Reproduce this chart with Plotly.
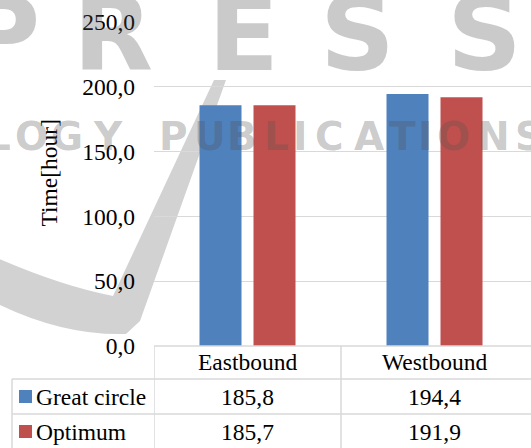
import plotly.graph_objects as go

# ---- data ----
categories = ["Eastbound", "Westbound"]
series_names = ["Great circle", "Optimum"]
great_circle = [185.8, 194.4]
optimum = [185.7, 191.9]
series_colors = ["#4F81BD", "#C0504D"]
y_tick_values = [0, 50, 100, 150, 200, 250]

W, H = 531, 448
L_M, R_M, T_M, B_M = 154, 0, 22, 102
PW, PH = W - L_M - R_M, H - T_M - B_M


def px(x):
    """pixel column -> paper x"""
    return (x - L_M) / PW


def py(y):
    """pixel row -> paper y"""
    return (H - B_M - y) / PH


FONT = "Liberation Serif, Times New Roman, DejaVu Serif, serif"
FS = 23.5
GRID = "#D9D9D9"
TXT = dict(family=FONT, size=FS, color="black")

fig = go.Figure()
for name, vals, col in zip(series_names, [great_circle, optimum], series_colors):
    fig.add_trace(go.Bar(x=categories, y=vals, name=name, marker_color=col,
                         marker_line_width=0))

shapes = []
annotations = []


def note(x, y, text, font, xref="paper", xanchor="center", **kw):
    annotations.append(dict(x=x, xref=xref, y=y, yref="paper", text=text,
                            xanchor=xanchor, yanchor="middle", showarrow=False,
                            font=font, **kw))


# background swoosh
sw = [(-10, 300), (60, 336), (126, 334), (140, 321), (226, 80), (214, 80),
      (113, 296), (60, 286), (-10, 255)]
p = [(px(a), py(b)) for a, b in sw]
path = (f"M{p[0][0]},{p[0][1]} Q{p[1][0]},{p[1][1]} {p[2][0]},{p[2][1]} "
        f"L{p[3][0]},{p[3][1]} L{p[4][0]},{p[4][1]} L{p[5][0]},{p[5][1]} "
        f"L{p[6][0]},{p[6][1]} Q{p[7][0]},{p[7][1]} {p[8][0]},{p[8][1]} Z")
shapes.append(dict(type="path", xref="paper", yref="paper", path=path,
                   fillcolor="#D2D2D2", line_width=0, layer="below"))


# data table grid
def hline(x0, x1, y):
    shapes.append(dict(type="line", xref="paper", yref="paper", x0=px(x0), x1=px(x1),
                       y0=py(y), y1=py(y), line=dict(color=GRID, width=1.5)))


def vline(x, y0, y1, xref="paper"):
    xv = px(x) if xref == "paper" else x
    shapes.append(dict(type="line", xref=xref, yref="paper", x0=xv, x1=xv,
                       y0=py(y0), y1=py(y1), line=dict(color=GRID, width=1.5)))


hline(154, W, 346)
hline(12, W, 379)
hline(12, W, 414)
vline(12, 379, 452)
vline(-0.5, 346, 452, xref="x")
vline(0.5, 346, 452, xref="x")

for c in categories:
    note(c, py(362.5), c, TXT, xref="x")

row_centers = [396.5, 431.5]
for r, (name, vals, col) in enumerate(zip(series_names, [great_circle, optimum], series_colors)):
    yc = row_centers[r]
    shapes.append(dict(type="rect", xref="paper", yref="paper", x0=px(19), x1=px(32),
                       y0=py(yc + 6.5), y1=py(yc - 6.5), fillcolor=col, line_width=0))
    note(px(34), py(yc), name, TXT, xanchor="left")
    for c, v in zip(categories, vals):
        note(c, py(yc), f"{v:.1f}".replace(".", ","), TXT, xref="x")

# axis title
note(px(49), py(172.5), "Time[hour]", TXT, textangle=-90)

# publisher watermark, set letter by letter
WM = "rgba(80,80,80,0.3)"
WM_BIG = dict(family="DejaVu Sans", size=104, color=WM, weight="bold")
WM_SMALL = dict(family="DejaVu Sans", size=39, color=WM, weight="bold")
for ch, cx in zip("PRESS", [2, 113, 243, 357, 484]):
    note(px(cx), py(34), ch, WM_BIG)
small_letters = "LOGYPUBLICATIONS"
small_centers = [-2, 32, 67, 108, 173, 210, 242, 276, 300, 329, 369, 402, 425, 453, 493, 529]
for ch, cx in zip(small_letters, small_centers):
    note(px(cx), py(136), ch, WM_SMALL)

fig.update_layout(
    width=W, height=H,
    margin=dict(l=L_M, r=R_M, t=T_M, b=B_M),
    paper_bgcolor="white", plot_bgcolor="white",
    separators=", ",
    barmode="group", bargap=0.4225, bargroupgap=0.222,
    showlegend=False,
    shapes=shapes, annotations=annotations,
    xaxis=dict(range=[-0.5, 1.516], showticklabels=False, showgrid=False,
               zeroline=False, showline=False, fixedrange=True),
    yaxis=dict(range=[0, 250], tickvals=y_tick_values, tickformat=".1f",
               showgrid=True, gridcolor=GRID, gridwidth=1, zeroline=False,
               showline=False, ticks="", ticklabelstandoff=18,
               tickfont=TXT),
)

fig.write_html("out.html")
